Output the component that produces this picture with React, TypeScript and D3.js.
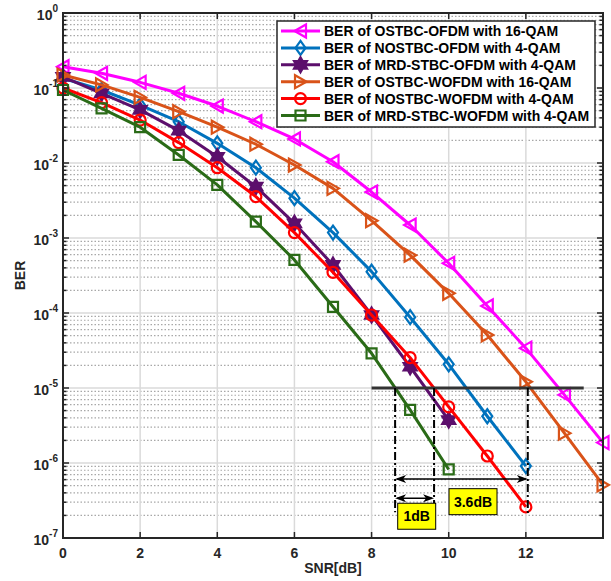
import React, { useEffect, useRef } from 'react';
import * as d3 from 'd3';

// SNR points (dB)
const snr = [0, 1, 2, 3, 4, 5, 6, 7, 8, 9, 10, 11, 12, 13, 14];

// BER curves
const ostbcOfdm16 = [0.192, 0.157, 0.119, 0.085, 0.0575, 0.0355, 0.0209, 0.0104, 0.0041, 0.00149, 4.6e-4, 1.24e-4, 3.4e-5, 8.1e-6, 1.87e-6];
const nostbcOfdm4 = [0.135, 0.094, 0.059, 0.0355, 0.0183, 0.00865, 0.0034, 0.00118, 3.56e-4, 8.8e-5, 2.07e-5, 4.2e-6, 9.1e-7];
const mrdOfdm4 = [0.141, 0.085, 0.051, 0.027, 0.0121, 0.00483, 0.00157, 4.37e-4, 9.4e-5, 1.92e-5, 3.74e-6];
const ostbcWofdm16 = [0.149, 0.11, 0.075, 0.0483, 0.03, 0.0178, 0.0094, 0.00459, 0.0017, 5.9e-4, 1.83e-4, 5.1e-5, 1.21e-5, 2.5e-6, 5.1e-7];
const nostbcWofdm4 = [0.1, 0.0637, 0.0374, 0.0187, 0.00865, 0.00356, 0.00118, 3.49e-4, 9.4e-5, 2.54e-5, 5.6e-6, 1.24e-6, 2.6e-7];
const mrdWofdm4 = [0.094, 0.0536, 0.03, 0.0128, 0.0051, 0.00165, 5.1e-4, 1.21e-4, 2.9e-5, 5.1e-6, 8.2e-7];

const seriesNames = [
  'BER of OSTBC-OFDM with 16-QAM',
  'BER of NOSTBC-OFDM with 4-QAM',
  'BER of MRD-STBC-OFDM with 4-QAM',
  'BER of OSTBC-WOFDM with 16-QAM',
  'BER of NOSTBC-WOFDM with 4-QAM',
  'BER of MRD-STBC-WOFDM with 4-QAM',
];
const seriesValues = [ostbcOfdm16, nostbcOfdm4, mrdOfdm4, ostbcWofdm16, nostbcWofdm4, mrdWofdm4];
const seriesColors = ['#FF00FF', '#0072BD', '#5C0F6C', '#D95319', '#FF0000', '#2A6B17'];
const seriesMarkers = ['triLeft', 'diamond', 'hexagram', 'triRight', 'circle', 'square'];

const xTicks = [0, 2, 4, 6, 8, 10, 12];
const yExps = [0, -1, -2, -3, -4, -5, -6, -7];

// annotation values (SNR, BER)
const targetBer = 1e-5;
const targetSnr = [8, 13.5];
const crossings = [8.61, 9.62, 12.05];
const crossingEnds = [2.2e-7, 2.9e-7, 2.0e-7];
const gapLabels = ['3.6dB', '1dB'];
const gapArrowBer = [6.1e-7, 3.4e-7];
const gapLabelPos = [[10.63, 3.05e-7], [9.17, 1.95e-7]];

const FONT = 'Liberation Sans, Arial, sans-serif';

function markerPath(type) {
  if (type === 'triLeft') return 'M-6,0L5.5,-6.5L5.5,6.5Z';
  if (type === 'triRight') return 'M6,0L-5.5,-6.5L-5.5,6.5Z';
  if (type === 'diamond') return 'M0,-7L5,0L0,7L-5,0Z';
  if (type === 'square') return 'M-5,-5H5V5H-5Z';
  if (type === 'circle') return 'M5.5,0A5.5,5.5 0 1,1 -5.5,0A5.5,5.5 0 1,1 5.5,0Z';
  // six-pointed star
  const pts = [];
  for (let i = 0; i < 12; i++) {
    const r = i % 2 === 0 ? 7.5 : 7.5 / Math.sqrt(3);
    const a = -Math.PI / 2 + (i * Math.PI) / 6;
    pts.push([r * Math.cos(a), r * Math.sin(a)]);
  }
  return 'M' + pts.map((p) => p.join(',')).join('L') + 'Z';
}

export default function App() {
  const svgRef = useRef(null);

  useEffect(() => {
    const svg = d3.select(svgRef.current);
    svg.selectAll('*').remove();

    const left = 63;
    const right = 603;
    const top = 13;
    const bottom = 538;

    const x = d3.scaleLinear().domain([0, 14]).range([left, right]);
    const y = d3.scaleLog().domain([1e-7, 1]).range([bottom, top]);

    svg.append('rect').attr('width', 611).attr('height', 581).attr('fill', '#fff');

    // grid
    const grid = svg.append('g');
    const minors = [];
    yExps.forEach((e) => {
      if (e === 0) return;
      for (let k = 2; k <= 9; k++) minors.push(k * Math.pow(10, e));
    });
    grid
      .selectAll('.minor')
      .data(minors)
      .join('line')
      .attr('x1', left)
      .attr('x2', right)
      .attr('y1', (d) => y(d))
      .attr('y2', (d) => y(d))
      .attr('stroke', '#a8a8a8')
      .attr('stroke-width', 1.2)
      .attr('stroke-dasharray', '1.5,2');
    grid
      .selectAll('.majy')
      .data(yExps.map((e) => Math.pow(10, e)))
      .join('line')
      .attr('x1', left)
      .attr('x2', right)
      .attr('y1', (d) => y(d))
      .attr('y2', (d) => y(d))
      .attr('stroke', '#dadada')
      .attr('stroke-width', 1.5);
    grid
      .selectAll('.majx')
      .data(xTicks)
      .join('line')
      .attr('x1', (d) => x(d))
      .attr('x2', (d) => x(d))
      .attr('y1', top)
      .attr('y2', bottom)
      .attr('stroke', '#dadada')
      .attr('stroke-width', 1.5);

    // series
    const line = d3
      .line()
      .x((d) => x(d[0]))
      .y((d) => y(d[1]));
    seriesValues.forEach((vals, i) => {
      const pts = vals.map((v, j) => [snr[j], v]);
      const g = svg.append('g');
      g.append('path')
        .attr('d', line(pts))
        .attr('fill', 'none')
        .attr('stroke', seriesColors[i])
        .attr('stroke-width', 3)
        .attr('stroke-linejoin', 'round');
      g.selectAll('path.m')
        .data(pts)
        .join('path')
        .attr('class', 'm')
        .attr('transform', (d) => `translate(${x(d[0])},${y(d[1])})`)
        .attr('d', markerPath(seriesMarkers[i]))
        .attr('fill', seriesMarkers[i] === 'hexagram' ? seriesColors[i] : 'none')
        .attr('stroke', seriesColors[i])
        .attr('stroke-width', 2.2);
    });

    // annotations
    const ann = svg.append('g');
    ann.append('line')
      .attr('x1', x(targetSnr[0]))
      .attr('x2', x(targetSnr[1]))
      .attr('y1', y(targetBer))
      .attr('y2', y(targetBer))
      .attr('stroke', '#333')
      .attr('stroke-width', 3);
    ann.selectAll('.dd')
      .data(crossings)
      .join('line')
      .attr('x1', (d) => x(d))
      .attr('x2', (d) => x(d))
      .attr('y1', y(targetBer))
      .attr('y2', (d, i) => y(crossingEnds[i]))
      .attr('stroke', '#000')
      .attr('stroke-width', 2)
      .attr('stroke-dasharray', '8,3,2,3');

    const arrows = [
      [crossings[0], crossings[2], gapArrowBer[0]],
      [crossings[0], crossings[1], gapArrowBer[1]],
    ];
    arrows.forEach(([a, b, v]) => {
      const x1 = x(a);
      const x2 = x(b);
      const yy = y(v);
      ann.append('line')
        .attr('x1', x1 + 2)
        .attr('x2', x2 - 2)
        .attr('y1', yy)
        .attr('y2', yy)
        .attr('stroke', '#000')
        .attr('stroke-width', 1.5);
      ann.append('path')
        .attr('d', `M${x1},${yy}L${x1 + 11},${yy - 4}L${x1 + 8},${yy}L${x1 + 11},${yy + 4}Z`)
        .attr('fill', '#000');
      ann.append('path')
        .attr('d', `M${x2},${yy}L${x2 - 11},${yy - 4}L${x2 - 8},${yy}L${x2 - 11},${yy + 4}Z`)
        .attr('fill', '#000');
    });

    gapLabels.forEach((t, i) => {
      const cx = x(gapLabelPos[i][0]);
      const cy = y(gapLabelPos[i][1]);
      const w = i === 0 ? 48 : 38;
      ann.append('rect')
        .attr('x', cx - w / 2)
        .attr('y', cy - 13)
        .attr('width', w)
        .attr('height', 26)
        .attr('fill', '#FFFF00')
        .attr('stroke', '#000')
        .attr('stroke-width', 1);
      ann.append('text')
        .attr('x', cx)
        .attr('y', cy + 5)
        .attr('text-anchor', 'middle')
        .attr('font-family', FONT)
        .attr('font-weight', 'bold')
        .attr('font-size', 14)
        .text(t);
    });

    // axes box and ticks
    const ax = svg.append('g');
    const majorY = yExps.map((e) => Math.pow(10, e));
    [left, right].forEach((edge) => {
      const dir = edge === left ? 1 : -1;
      ax.selectAll(null)
        .data(majorY)
        .join('line')
        .attr('x1', edge)
        .attr('x2', edge + dir * 6)
        .attr('y1', (d) => y(d))
        .attr('y2', (d) => y(d))
        .attr('stroke', '#262626')
        .attr('stroke-width', 1.5);
      ax.selectAll(null)
        .data(minors)
        .join('line')
        .attr('x1', edge)
        .attr('x2', edge + dir * 3.5)
        .attr('y1', (d) => y(d))
        .attr('y2', (d) => y(d))
        .attr('stroke', '#262626')
        .attr('stroke-width', 1.5);
    });
    [top, bottom].forEach((edge) => {
      const dir = edge === bottom ? -1 : 1;
      ax.selectAll(null)
        .data(xTicks)
        .join('line')
        .attr('x1', (d) => x(d))
        .attr('x2', (d) => x(d))
        .attr('y1', edge)
        .attr('y2', edge + dir * 6)
        .attr('stroke', '#262626')
        .attr('stroke-width', 1.5);
    });
    ax.append('rect')
      .attr('x', left)
      .attr('y', top)
      .attr('width', right - left)
      .attr('height', bottom - top)
      .attr('fill', 'none')
      .attr('stroke', '#262626')
      .attr('stroke-width', 2);

    // tick labels
    ax.selectAll('.xl')
      .data(xTicks)
      .join('text')
      .attr('x', (d) => x(d))
      .attr('y', bottom + 20)
      .attr('text-anchor', 'middle')
      .attr('font-family', FONT)
      .attr('font-weight', 'bold')
      .attr('font-size', 14)
      .attr('fill', '#262626')
      .text((d) => d);

    const yl = ax.selectAll('.yl')
      .data(yExps)
      .join('text')
      .attr('x', left - 5)
      .attr('y', (d) => y(Math.pow(10, d)) + 7)
      .attr('text-anchor', 'end')
      .attr('font-family', FONT)
      .attr('font-weight', 'bold')
      .attr('font-size', 14)
      .attr('fill', '#262626');
    yl.append('tspan').text('10');
    yl.append('tspan')
      .attr('font-size', 10)
      .attr('dy', -8)
      .text((d) => d);

    ax.append('text')
      .attr('x', (left + right) / 2)
      .attr('y', 573)
      .attr('text-anchor', 'middle')
      .attr('font-family', FONT)
      .attr('font-weight', 'bold')
      .attr('font-size', 14)
      .attr('fill', '#262626')
      .text('SNR[dB]');
    ax.append('text')
      .attr('transform', `translate(25,${(top + bottom) / 2}) rotate(-90)`)
      .attr('text-anchor', 'middle')
      .attr('font-family', FONT)
      .attr('font-weight', 'bold')
      .attr('font-size', 14)
      .attr('fill', '#262626')
      .text('BER');

    // legend
    const lg = svg.append('g');
    lg.append('rect')
      .attr('x', 277)
      .attr('y', 21)
      .attr('width', 318)
      .attr('height', 106)
      .attr('fill', '#fff')
      .attr('stroke', '#262626')
      .attr('stroke-width', 1.5);
    seriesNames.forEach((name, i) => {
      const ry = 31 + i * 16.9;
      lg.append('line')
        .attr('x1', 281)
        .attr('x2', 320)
        .attr('y1', ry)
        .attr('y2', ry)
        .attr('stroke', seriesColors[i])
        .attr('stroke-width', 3);
      lg.append('path')
        .attr('transform', `translate(300.5,${ry})`)
        .attr('d', markerPath(seriesMarkers[i]))
        .attr('fill', seriesMarkers[i] === 'hexagram' ? seriesColors[i] : 'none')
        .attr('stroke', seriesColors[i])
        .attr('stroke-width', 2.2);
      lg.append('text')
        .attr('x', 324)
        .attr('y', ry + 5)
        .attr('font-family', FONT)
        .attr('font-weight', 'bold')
        .attr('font-size', 14)
        .attr('fill', '#000')
        .text(name);
    });
  }, []);

  return (
    <div style={{ position: 'absolute', left: 0, top: 0 }}>
      <svg ref={svgRef} width={611} height={581} style={{ display: 'block' }} />
    </div>
  );
}
